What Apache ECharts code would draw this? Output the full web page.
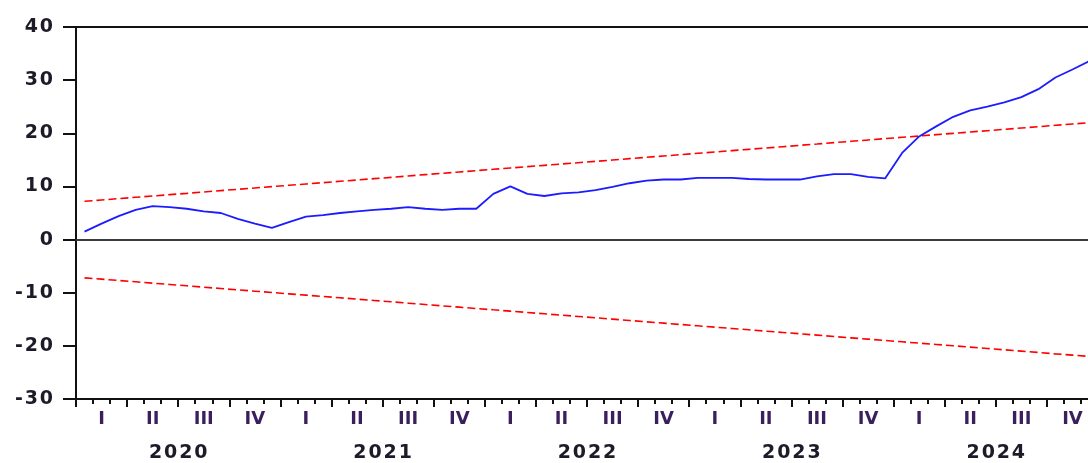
<!DOCTYPE html>
<html>
<head>
<meta charset="utf-8">
<script src="https://cdn.jsdelivr.net/npm/echarts@6/dist/echarts.min.js"></script>
<style>
  html, body { margin: 0; padding: 0; background: #ffffff; }
  #chart { width: 1088px; height: 463px; }
</style>
</head>
<body>
<div id="chart"></div>
<script>
// CUSUM of recursive residuals with 5% significance bounds, monthly 2020-2024
const years = ['2020', '2021', '2022', '2023', '2024'];
const quarters = [
  'I', 'II', 'III', 'IV', 'I', 'II', 'III', 'IV', 'I', 'II',
  'III', 'IV', 'I', 'II', 'III', 'IV', 'I', 'II', 'III', 'IV'
];
const yTicks = { min: -30, max: 40, step: 10 };

const cusum = [
  1.5, 3.0, 4.4, 5.6, 6.3, 6.1, 5.8, 5.3, 5.0, 3.9, 3.0, 2.2,
  3.3, 4.3, 4.6, 5.0, 5.3, 5.6, 5.8, 6.1, 5.8, 5.6, 5.8, 5.8,
  8.6, 10.0, 8.6, 8.2, 8.7, 8.9, 9.3, 9.9, 10.6, 11.1, 11.3, 11.3,
  11.6, 11.6, 11.6, 11.4, 11.3, 11.3, 11.3, 11.9, 12.3, 12.3, 11.8, 11.5,
  16.3, 19.4, 21.3, 23.1, 24.3, 25.0, 25.8, 26.8, 28.3, 30.5, 32.0, 33.6
];
const upper5 = [
  7.20, 7.45, 7.70, 7.95, 8.20, 8.45, 8.70, 8.96, 9.21, 9.46, 9.71, 9.96,
  10.21, 10.46, 10.71, 10.96, 11.21, 11.46, 11.71, 11.97, 12.22, 12.47, 12.72, 12.97,
  13.22, 13.47, 13.72, 13.97, 14.22, 14.47, 14.72, 14.97, 15.23, 15.48, 15.73, 15.98,
  16.23, 16.48, 16.73, 16.98, 17.23, 17.48, 17.73, 17.98, 18.24, 18.49, 18.74, 18.99,
  19.24, 19.49, 19.74, 19.99, 20.24, 20.49, 20.74, 20.99, 21.24, 21.50, 21.75, 22.00
];
const lower5 = [
  -7.20, -7.45, -7.70, -7.95, -8.20, -8.45, -8.70, -8.96, -9.21, -9.46, -9.71, -9.96,
  -10.21, -10.46, -10.71, -10.96, -11.21, -11.46, -11.71, -11.97, -12.22, -12.47, -12.72, -12.97,
  -13.22, -13.47, -13.72, -13.97, -14.22, -14.47, -14.72, -14.97, -15.23, -15.48, -15.73, -15.98,
  -16.23, -16.48, -16.73, -16.98, -17.23, -17.48, -17.73, -17.98, -18.24, -18.49, -18.74, -18.99,
  -19.24, -19.49, -19.74, -19.99, -20.24, -20.49, -20.74, -20.99, -21.24, -21.50, -21.75, -22.00
];

// one category per month, e.g. 2020M01
const months = [];
years.forEach(y => { for (let m = 1; m <= 12; m++) months.push(y + 'M' + String(m).padStart(2, '0')); });

// slightly airy digits
const spaced = s => String(s).split('').join('\u200A');

const FONT = 'DejaVu Sans';
const INK = '#111111';

const option = {
  animation: false,
  backgroundColor: '#ffffff',
  grid: { left: 76, top: 27, width: 1022, height: 372, outerBoundsMode: 'none', containLabel: false },
  xAxis: [
    {
      type: 'category', data: months, position: 'bottom', boundaryGap: true,
      axisLine: { show: true, onZero: false, lineStyle: { color: INK, width: 2 } },
      axisTick: { show: true, interval: 0, length: 5, lineStyle: { color: INK, width: 2 } },
      axisLabel: { show: false },
      splitLine: { show: false }
    },
    {
      type: 'category', data: quarters.map((q, i) => 'q' + i), position: 'bottom', boundaryGap: true,
      axisLine: { show: false, onZero: false },
      axisTick: { show: true, interval: 0, length: 8, lineStyle: { color: INK, width: 2 } },
      axisLabel: {
        interval: 0, margin: 11, color: '#3a1f5c',
        fontFamily: FONT, fontWeight: 'bold', fontSize: 18,
        formatter: (v, i) => quarters[i]
      },
      splitLine: { show: false }
    },
    {
      type: 'category', data: years, position: 'bottom', boundaryGap: true,
      axisLine: { show: false, onZero: false },
      axisTick: { show: false },
      axisLabel: {
        interval: 0, margin: 45, color: '#1e1a28',
        fontFamily: FONT, fontWeight: 'bold', fontSize: 19,
        formatter: v => spaced(v)
      },
      splitLine: { show: false }
    },
    {
      type: 'category', data: ['frame'], position: 'top',
      axisLine: { show: true, onZero: false, lineStyle: { color: INK, width: 2 } },
      axisTick: { show: false },
      axisLabel: { show: false },
      splitLine: { show: false }
    }
  ],
  yAxis: {
    type: 'value', min: yTicks.min, max: yTicks.max, interval: yTicks.step,
    axisLine: { show: true, onZero: false, lineStyle: { color: INK, width: 2 } },
    axisTick: { show: true, length: 13, lineStyle: { color: INK, width: 2 } },
    axisLabel: {
      margin: 23, color: '#1e1a28',
      fontFamily: FONT, fontWeight: 'bold', fontSize: 19,
      formatter: v => spaced(v)
    },
    splitLine: { show: false }
  },
  series: [
    {
      name: 'CUSUM', type: 'line', xAxisIndex: 0, data: cusum,
      showSymbol: false, symbol: 'none', smooth: false,
      lineStyle: { color: '#1c1cff', width: 1.8 },
      z: 3,
      markLine: {
        silent: true, symbol: ['none', 'none'], label: { show: false },
        lineStyle: { color: '#3a3a3a', width: 2, type: 'solid' },
        data: [{ yAxis: 0 }]
      }
    },
    {
      name: '5% Significance', type: 'line', xAxisIndex: 0, data: upper5,
      showSymbol: false, symbol: 'none',
      lineStyle: { color: '#ff0000', width: 1.6, type: [8, 4] },
      z: 2
    },
    {
      name: '5% Significance (lower)', type: 'line', xAxisIndex: 0, data: lower5,
      showSymbol: false, symbol: 'none',
      lineStyle: { color: '#ff0000', width: 1.6, type: [8, 4] },
      z: 2
    }
  ]
};

const chart = echarts.init(document.getElementById('chart'), null, { renderer: 'canvas' });
chart.setOption(option);
</script>
</body>
</html>
